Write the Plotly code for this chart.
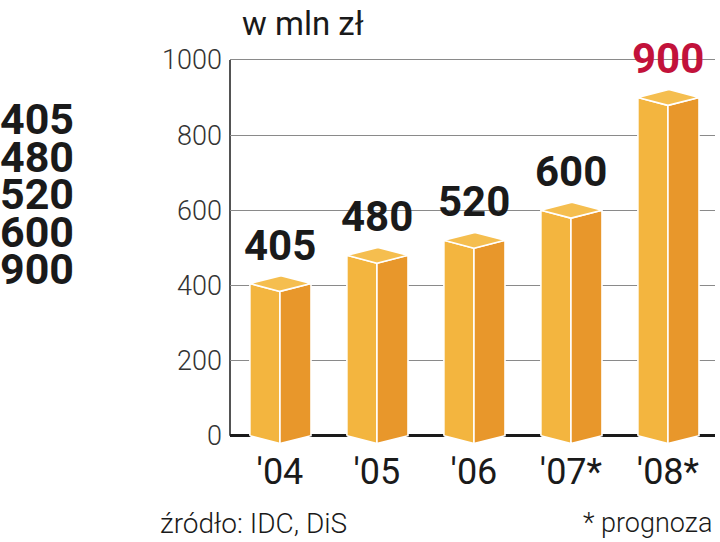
import plotly.graph_objects as go

# ---- data ----
years = ["'04", "'05", "'06", "'07*", "'08*"]
values = [405, 480, 520, 600, 900]
y_ticks = [0, 200, 400, 600, 800, 1000]
title_text = "w mln zł"
source_text = "źródło: IDC, DiS"
note_text = "* prognoza"

# ---- style ----
FRONT = "#F3B53F"
SIDE = "#E8972B"
TOP = "#F5BE4F"
TEXT = "#1a1a1a"
RED = "#C2123B"
FONT = "Roboto"
W_FRONT = 0.31   # x units
W_SIDE = 0.32
DEPTH = 21       # y units

FIG_W, FIG_H = 720, 542
L_MARGIN, PLOT_W = 230, 485
T_MARGIN, PLOT_H = 58, 389


def px(xr):
    return (xr - L_MARGIN) / PLOT_W


def py(yr):
    return (T_MARGIN + PLOT_H - yr) / PLOT_H


xs = list(range(len(years)))

front_x, front_y, side_x, side_y, top_x, top_y = [], [], [], [], [], []
for i, v in zip(xs, values):
    front_x += [i - W_FRONT, i - W_FRONT, i, i, i - W_FRONT, None]
    front_y += [0, v, v - DEPTH, -DEPTH, 0, None]
    side_x += [i, i, i + W_SIDE, i + W_SIDE, i, None]
    side_y += [-DEPTH, v - DEPTH, v, 0, -DEPTH, None]
    top_x += [i - W_FRONT, i + 0.01, i + W_SIDE, i, i - W_FRONT, None]
    top_y += [v, v + DEPTH, v, v - DEPTH, v, None]

fig = go.Figure()
for fx, fy, col in [(front_x, front_y, FRONT), (side_x, side_y, SIDE), (top_x, top_y, TOP)]:
    fig.add_trace(go.Scatter(
        x=fx, y=fy, mode="lines", fill="toself", fillcolor=col,
        line=dict(color="white", width=1.6), hoverinfo="skip", showlegend=False,
    ))

# value labels above bars
for i, v in zip(xs, values):
    fig.add_annotation(
        x=i, y=v, xref="x", yref="y", text=str(v), showarrow=False,
        yanchor="bottom", xanchor="center", yshift=12,
        font=dict(family=FONT, size=42, color=RED if v == max(values) else TEXT, weight=700),
    )

# left column list of values
for k, v in enumerate(values):
    ypix = 119 + k * 37.6
    fig.add_annotation(
        x=px(-2), y=py(ypix),
        xref="paper", yref="paper", text=str(v), showarrow=False,
        xanchor="left", yanchor="middle",
        font=dict(family=FONT, size=43, color=TEXT, weight=700),
    )

# title
fig.add_annotation(
    x=px(303), y=py(23),
    xref="paper", yref="paper", text=title_text, showarrow=False,
    xanchor="center", yanchor="middle",
    font=dict(family=FONT, size=33, color=TEXT),
)
# footer
fig.add_annotation(
    x=px(158), y=py(523),
    xref="paper", yref="paper", text=source_text, showarrow=False,
    xanchor="left", yanchor="middle",
    font=dict(family=FONT, size=28, color=TEXT, weight=300),
)
fig.add_annotation(
    x=px(714), y=py(523),
    xref="paper", yref="paper", text=note_text, showarrow=False,
    xanchor="right", yanchor="middle",
    font=dict(family=FONT, size=27, color=TEXT, weight=300),
)

# y axis line
fig.add_shape(type="line", xref="paper", yref="y", x0=0, x1=0, y0=0, y1=1000,
              line=dict(color=TEXT, width=1.5), layer="below")

fig.update_layout(
    width=FIG_W, height=FIG_H,
    margin=dict(l=L_MARGIN, r=FIG_W - L_MARGIN - PLOT_W, t=T_MARGIN,
                b=FIG_H - T_MARGIN - PLOT_H, pad=0),
    paper_bgcolor="white", plot_bgcolor="white",
    xaxis=dict(
        range=[-0.515, 4.485], tickmode="array", tickvals=xs, ticktext=years,
        showgrid=False, zeroline=False, showline=False, ticks="",
        tickfont=dict(family=FONT, size=36, color=TEXT),
    ),
    yaxis=dict(
        range=[-30, 1005], tickmode="array", tickvals=y_ticks,
        showgrid=True, gridcolor="#8a8a8a", gridwidth=1,
        zeroline=True, zerolinecolor=TEXT, zerolinewidth=3,
        showline=False, ticks="", ticklabelstandoff=7,
        tickfont=dict(family=FONT, size=27, color="#333333", weight=300),
    ),
)

fig.write_html(
    "out.html",
    config={"displayModeBar": False},
    post_script="document.body.style.margin='0';document.body.style.overflow='hidden';",
)
